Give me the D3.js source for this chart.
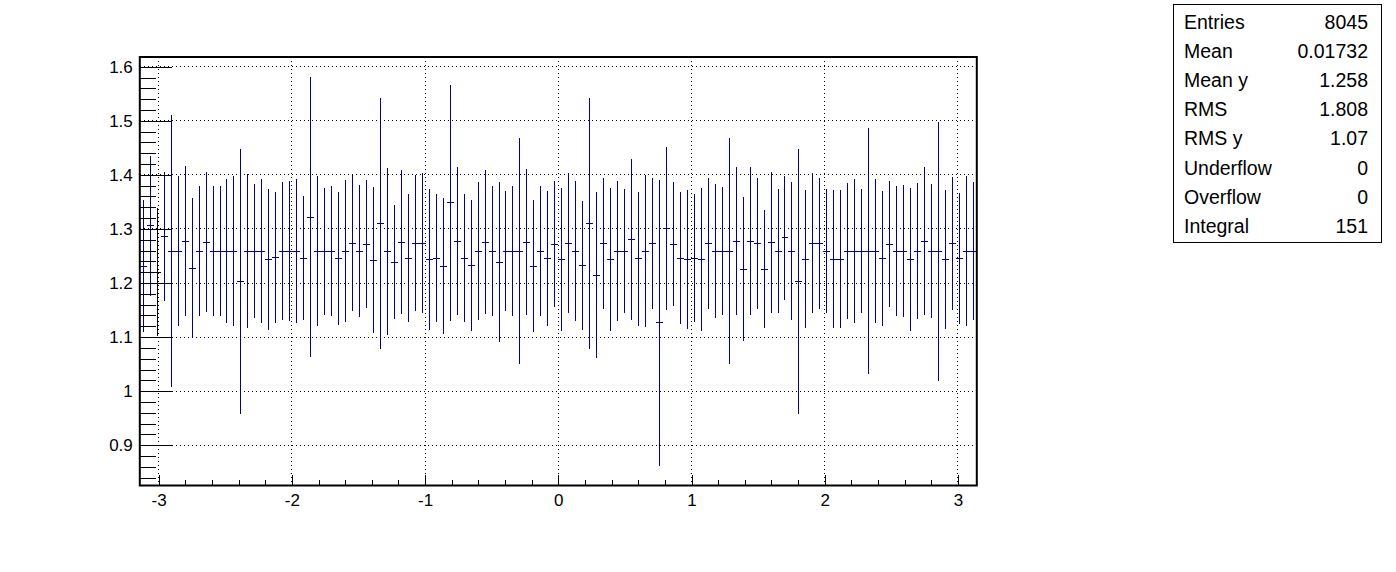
<!DOCTYPE html>
<html>
<head>
<meta charset="utf-8">
<script src="https://cdn.jsdelivr.net/npm/d3@7"></script>
<style>
  body { margin: 0; background: #fff; }
  text { font-family: "Liberation Sans", Arial, Helvetica, sans-serif; }
</style>
</head>
<body>
<svg id="chart"></svg>
<script>
// profile histogram: 120 bins from -pi to pi
const xLow = -Math.PI, xHigh = Math.PI;
const yLow = 0.8257, yHigh = 1.6179;

const binMeans = [
  1.2314, 1.3058, 1.2197, 1.2862, 1.2591, 1.2591, 1.2775, 1.2277, 1.2591, 1.2757,
  1.2591, 1.2591, 1.2591, 1.2591, 1.2031, 1.2591, 1.2591, 1.2591, 1.2437, 1.2468,
  1.2591, 1.2591, 1.2591, 1.2462, 1.3218, 1.2591, 1.2591, 1.2591, 1.2455, 1.2591,
  1.2738, 1.2591, 1.2720, 1.2425, 1.3108, 1.2591, 1.2388, 1.2757, 1.2462, 1.2738,
  1.2740, 1.2437, 1.2462, 1.2308, 1.3483, 1.2775, 1.2462, 1.2320, 1.2591, 1.2757,
  1.2591, 1.2388, 1.2591, 1.2591, 1.2591, 1.2757, 1.2314, 1.2591, 1.2449, 1.2720,
  1.2431, 1.2740, 1.2591, 1.2326, 1.3108, 1.2148, 1.2730, 1.2431, 1.2591, 1.2591,
  1.2800, 1.2449, 1.2591, 1.2730, 1.1262, 1.3009, 1.2720, 1.2462, 1.2443, 1.2462,
  1.2431, 1.2730, 1.2591, 1.2591, 1.2591, 1.2775, 1.2258, 1.2775, 1.2730, 1.2258,
  1.2748, 1.2591, 1.2837, 1.2591, 1.2031, 1.2443, 1.2740, 1.2730, 1.2591, 1.2443,
  1.2443, 1.2591, 1.2591, 1.2591, 1.2591, 1.2591, 1.2449, 1.2720, 1.2591, 1.2591,
  1.2431, 1.2591, 1.2775, 1.2591, 1.2591, 1.2437, 1.2730, 1.2449, 1.2591, 1.2591
];

const binErrors = [
  0.1225, 0.1290, 0.1185, 0.1190, 0.2514, 0.1385, 0.1390, 0.1300, 0.1197, 0.1300,
  0.1206, 0.1197, 0.1332, 0.1385, 0.2450, 0.1425, 0.1240, 0.1332, 0.1308, 0.1206,
  0.1283, 0.1298, 0.1338, 0.1142, 0.2590, 0.1385, 0.1175, 0.1203, 0.1222, 0.1320,
  0.1258, 0.1228, 0.1190, 0.1354, 0.2320, 0.1545, 0.1058, 0.1335, 0.1188, 0.1258,
  0.1286, 0.1310, 0.1188, 0.1255, 0.2178, 0.1372, 0.1178, 0.1215, 0.1280, 0.1338,
  0.1197, 0.1474, 0.1105, 0.1206, 0.2090, 0.1345, 0.1225, 0.1206, 0.1252, 0.1169,
  0.1326, 0.1289, 0.1298, 0.1197, 0.2320, 0.1538, 0.1215, 0.1326, 0.1298, 0.1142,
  0.1492, 0.1234, 0.1409, 0.1215, 0.2646, 0.1510, 0.1151, 0.1215, 0.1286, 0.1188,
  0.1326, 0.1215, 0.1243, 0.1188, 0.2090, 0.1372, 0.1335, 0.1372, 0.1215, 0.1095,
  0.1308, 0.1142, 0.1142, 0.1280, 0.2450, 0.1280, 0.1289, 0.1215, 0.1151, 0.1280,
  0.1280, 0.1260, 0.1335, 0.1142, 0.2270, 0.1335, 0.1252, 0.1169, 0.1197, 0.1225,
  0.1326, 0.1260, 0.1372, 0.1243, 0.2394, 0.1289, 0.1234, 0.1215, 0.1382, 0.1280
];

const xTicks = [-3, -2, -1, 0, 1, 2, 3];
const yTicks = [0.9, 1, 1.1, 1.2, 1.3, 1.4, 1.5, 1.6];

const statLabels = ["Entries", "Mean", "Mean y", "RMS", "RMS y", "Underflow", "Overflow", "Integral"];
const statValues = ["8045", "0.01732", "1.258", "1.808", "1.07", "0", "0", "151"];

const W = 1396, H = 572;
const frame = {left: 139.8, right: 976.8, top: 57, bottom: 485.5};

const svg = d3.select('#chart').attr('width', W).attr('height', H);
svg.append('rect').attr('width', W).attr('height', H).attr('fill', '#fff');

const x = d3.scaleLinear().domain([xLow, xHigh]).range([frame.left, frame.right]);
const y = d3.scaleLinear().domain([yLow, yHigh]).range([frame.bottom, frame.top]);
const snap = v => Math.floor(v) + 0.5;

// grid
const grid = svg.append('g').attr('stroke', '#000').attr('stroke-width', 1)
  .attr('stroke-dasharray', '1,3').attr('shape-rendering', 'crispEdges');
grid.selectAll('line.gx').data(xTicks).enter().append('line')
  .attr('x1', d => snap(x(d))).attr('x2', d => snap(x(d)))
  .attr('y1', frame.top).attr('y2', frame.bottom);
grid.selectAll('line.gy').data(yTicks).enter().append('line')
  .attr('x1', frame.left).attr('x2', frame.right)
  .attr('y1', d => snap(y(d))).attr('y2', d => snap(y(d)));

// bins
const binW = (xHigh - xLow) / binMeans.length;
const bins = binMeans.map((m, i) => ({
  lo: xLow + i * binW, hi: xLow + (i + 1) * binW, mid: xLow + (i + 0.5) * binW,
  mean: m, err: binErrors[i], idx: i
}));
const gb = svg.append('g').attr('stroke-width', 1).attr('shape-rendering', 'crispEdges');
const bin = gb.selectAll('g').data(bins).enter().append('g')
  .attr('stroke', d => d.idx === 2 ? '#000' : '#000099');
bin.append('line')
  .attr('x1', d => snap(x(d.mid))).attr('x2', d => snap(x(d.mid)))
  .attr('y1', d => y(d.mean + d.err)).attr('y2', d => y(d.mean - d.err));
bin.append('line')
  .attr('x1', d => x(d.lo)).attr('x2', d => x(d.hi))
  .attr('y1', d => snap(y(d.mean))).attr('y2', d => snap(y(d.mean)));

// axes
const xMinor = d3.range(-3.2, 3.21, 0.2).map(v => +v.toFixed(2)).filter(v => v >= xLow && v <= xHigh);
const yMinor = d3.range(0.82, 1.62, 0.02).map(v => +v.toFixed(2)).filter(v => v >= yLow && v <= yHigh);

const axStyle = g => {
  g.select('.domain').remove();
  g.selectAll('line').attr('stroke', '#000').attr('shape-rendering', 'crispEdges');
  g.selectAll('text').attr('font-size', 17).attr('fill', '#000')
    .attr('font-family', '"Liberation Sans", Arial, sans-serif');
};

svg.append('g').attr('transform', `translate(0,${frame.bottom})`)
  .call(d3.axisBottom(x).tickValues(xMinor).tickSizeInner(-5.5).tickSizeOuter(0).tickFormat(''))
  .call(axStyle);
svg.append('g').attr('transform', `translate(0,${frame.bottom})`)
  .call(d3.axisBottom(x).tickValues(xTicks).tickSizeInner(-11).tickSizeOuter(0).tickPadding(8)
    .tickFormat(d => String(d)))
  .call(axStyle);

svg.append('g').attr('transform', `translate(${frame.left},0)`)
  .call(d3.axisLeft(y).tickValues(yMinor).tickSizeInner(-16).tickSizeOuter(0).tickFormat(''))
  .call(axStyle);
svg.append('g').attr('transform', `translate(${frame.left},0)`)
  .call(d3.axisLeft(y).tickValues(yTicks).tickSizeInner(-32).tickSizeOuter(0).tickPadding(7)
    .tickFormat(d => String(+d.toFixed(1))))
  .call(axStyle);

// frame
svg.append('rect')
  .attr('x', frame.left).attr('y', frame.top)
  .attr('width', frame.right - frame.left).attr('height', frame.bottom - frame.top)
  .attr('fill', 'none').attr('stroke', '#000').attr('stroke-width', 2);

// stats box
const sb = svg.append('g');
sb.append('rect').attr('x', 1173.5).attr('y', 4.5).attr('width', 208).attr('height', 238)
  .attr('fill', '#fff').attr('stroke', '#000').attr('stroke-width', 1);
sb.selectAll('text.lab').data(statLabels).enter().append('text')
  .attr('x', 1184).attr('y', (d, i) => 29 + i * 29.1)
  .attr('font-size', 19.5).text(d => d);
sb.selectAll('text.val').data(statValues).enter().append('text')
  .attr('x', 1368).attr('y', (d, i) => 29 + i * 29.1)
  .attr('text-anchor', 'end').attr('font-size', 19.5).text(d => d);
</script>
</body>
</html>
